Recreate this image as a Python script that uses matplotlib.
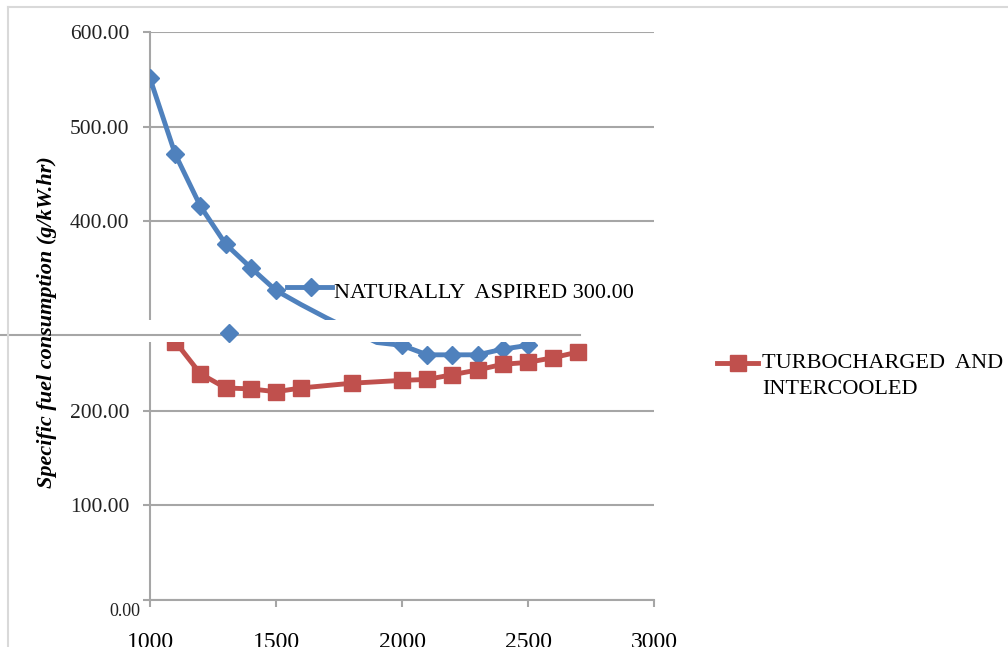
import matplotlib
matplotlib.use("Agg")
import matplotlib.pyplot as plt
from matplotlib.lines import Line2D
from matplotlib.patches import Rectangle

# engine speed (rpm) and specific fuel consumption (g/kW.hr)
na_speed = [1000, 1100, 1200, 1300, 1400, 1500, 1600, 1700, 1800, 1900,
            2000, 2100, 2200, 2300, 2400, 2500]
na_sfc = [551, 471, 416, 376, 351, 327, 312, 298, 285, 272,
          269, 259, 259, 259, 265, 269]
na_marked = [0, 1, 2, 3, 4, 5, 10, 11, 12, 13, 14, 15]

tc_speed = [1100, 1200, 1300, 1400, 1500, 1600, 1800, 2000, 2100, 2200,
            2300, 2400, 2500, 2600, 2700]
tc_sfc = [273, 239, 224, 223, 220, 224, 229, 232, 233, 238,
          243, 249, 251, 256, 262]

# lone marker left over in the original figure
stray_speed = [1313]
stray_sfc = [282]

y_ticks = [0, 100, 200, 400, 500, 600]
y_ticklabels = ['', '100.00', '200.00', '400.00', '500.00', '600.00']
x_ticks = [1000, 1500, 2000, 2500, 3000]

blue = '#4F81BD'
red = '#C0504D'
grid_col = '#A6A6A6'
serif = 'Liberation Serif'

W, H = 1008, 647
fig = plt.figure(figsize=(W / 100, H / 100), dpi=100)
fig.patch.set_facecolor('white')

def fx(px):
    return px / W

def fy(py):
    return 1 - py / H

ax = fig.add_axes([fx(150), fy(600), fx(654) - fx(150), fy(32) - fy(600)])
ax.set_xlim(1000, 3000)
ax.set_ylim(0, 600)

for s in ['top', 'right']:
    ax.spines[s].set_visible(False)
for s in ['left', 'bottom']:
    ax.spines[s].set_color(grid_col)
    ax.spines[s].set_linewidth(1.5)

ax.set_yticks(y_ticks)
ax.set_yticklabels(y_ticklabels, fontfamily=serif, fontsize=15.5, color='#222222')
ax.set_xticks(x_ticks)
ax.set_xticklabels([str(v) for v in x_ticks], fontfamily=serif, fontsize=17, color='black')
ax.tick_params(axis='y', direction='out', length=5, width=1.5, color=grid_col, pad=10)
ax.tick_params(axis='x', direction='out', length=5, width=1.5, color=grid_col, pad=18)
ax.yaxis.grid(True, color=grid_col, linewidth=1.5)
ax.set_axisbelow(True)

ax.plot(na_speed, na_sfc, color=blue, linewidth=3.5, marker='D', markersize=9,
        markeredgecolor=blue, markevery=na_marked, zorder=3)
ax.plot(tc_speed, tc_sfc, color=red, linewidth=3.5, marker='s', markersize=11,
        markeredgecolor=red, zorder=3)

# white band with a stray rule across the plot
ax.add_patch(Rectangle((0, fy(342)), fx(580), fy(320) - fy(342),
                       transform=fig.transFigure, facecolor='white',
                       edgecolor='none', clip_on=False, zorder=5))
ax.add_line(Line2D([0, fx(580)], [fy(335), fy(335)], transform=fig.transFigure,
                   color=grid_col, linewidth=1.5, clip_on=False, zorder=6))
ax.plot(stray_speed, stray_sfc, linestyle='none', marker='D', markersize=9,
        color=blue, clip_on=False, zorder=7)

# the "0.00" label sits lower and smaller
fig.text(fx(140), fy(612), '0.00', ha='right', va='center', fontfamily=serif,
         fontsize=13, color='#222222', zorder=10)

fig.text(fx(47), fy(322), 'Specific fuel consumption (g/kW.hr)', rotation=90,
         ha='center', va='center', fontfamily=serif, fontsize=16,
         fontstyle='italic', fontweight='bold', zorder=10)

# legend entries placed by hand like the source figure
fig.add_artist(Line2D([fx(287), fx(332)], [fy(287), fy(287)], transform=fig.transFigure,
                      color=blue, linewidth=3.5, zorder=10))
fig.add_artist(Line2D([fx(311)], [fy(287)], transform=fig.transFigure, marker='D',
                      markersize=9, color=blue, zorder=10))
fig.text(fx(334), fy(294), 'NATURALLY  ASPIRED 300.00', ha='left', va='center',
         fontfamily=serif, fontsize=16, zorder=10)

fig.add_artist(Line2D([fx(717), fx(758)], [fy(363), fy(363)], transform=fig.transFigure,
                      color=red, linewidth=3.5, zorder=10))
fig.add_artist(Line2D([fx(738)], [fy(363)], transform=fig.transFigure, marker='s',
                      markersize=11, color=red, zorder=10))
fig.text(fx(762), fy(363), 'TURBOCHARGED  AND', ha='left', va='center',
         fontfamily=serif, fontsize=16, zorder=10)
fig.text(fx(762), fy(390), 'INTERCOOLED', ha='left', va='center',
         fontfamily=serif, fontsize=16, zorder=10)

# outer frame lines of the original chart area
fig.add_artist(Line2D([fx(8), 1], [fy(7), fy(7)], transform=fig.transFigure,
                      color='#D9D9D9', linewidth=1.5, zorder=10))
fig.add_artist(Line2D([fx(8), fx(8)], [fy(7), 0], transform=fig.transFigure,
                      color='#D9D9D9', linewidth=1.5, zorder=10))

fig.savefig('out.png', dpi=100)
